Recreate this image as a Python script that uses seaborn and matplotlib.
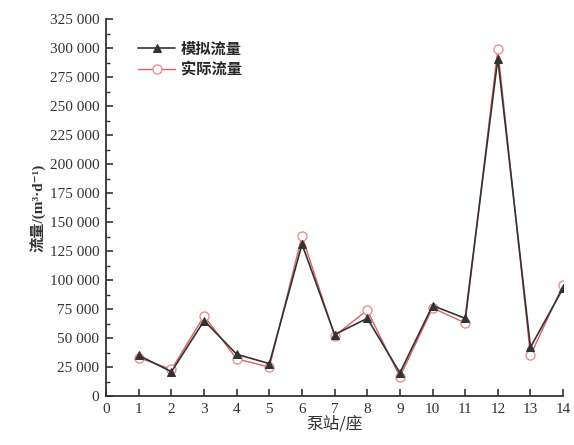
import numpy as np
import pandas as pd
import matplotlib
matplotlib.use('Agg')
import matplotlib.pyplot as plt
from matplotlib.ticker import FuncFormatter, MultipleLocator
import seaborn as sns

stations = list(range(1, 15))
sim_flow = [35000, 21000, 65000, 36000, 28000, 131000, 53000, 67000, 20000, 78000, 67000, 291000, 42000, 93000]
act_flow = [33000, 23000, 69000, 32000, 25000, 138000, 52000, 74000, 16500, 76000, 63000, 299000, 35000, 96000]

df = pd.DataFrame({'station': stations, 'sim': sim_flow, 'act': act_flow})

sns.set_style('ticks')
plt.rcParams['font.family'] = ['Liberation Serif', 'Noto Sans CJK SC', 'DejaVu Sans']
plt.rcParams['axes.unicode_minus'] = False

fig = plt.figure(figsize=(5.74, 4.45), dpi=100)
ax = fig.add_axes([0.185, 0.11, 0.796, 0.847])

sns.lineplot(data=df, x='station', y='act', ax=ax, color='#e06060', lw=1.0,
             marker='o', markersize=6.5, markerfacecolor='white',
             markeredgecolor='#e59090', markeredgewidth=1.0, label='实际流量')
sns.lineplot(data=df, x='station', y='sim', ax=ax, color='#333333', lw=1.2,
             marker='^', markersize=6, markerfacecolor='#333333',
             markeredgecolor='#333333', label='模拟流量')

ax.set_xlim(0, 14)
ax.set_ylim(0, 325000)
ax.xaxis.set_major_locator(MultipleLocator(1))
ax.yaxis.set_major_locator(MultipleLocator(25000))
ax.yaxis.set_minor_locator(MultipleLocator(12500))
ax.yaxis.set_major_formatter(FuncFormatter(lambda v, p: f'{int(v):,}'.replace(',', ' ')))
ax.tick_params(axis='both', which='major', direction='in', length=5, width=1.2,
               labelsize=11, colors='#333333', pad=5)
ax.tick_params(axis='y', which='minor', direction='in', length=3, width=1.0, colors='#333333')
for s in ['top', 'right']:
    ax.spines[s].set_visible(False)
for s in ['left', 'bottom']:
    ax.spines[s].set_linewidth(1.3)
    ax.spines[s].set_color('#333333')

ax.set_xlabel('泵站/座', fontsize=12, family=['Noto Sans CJK SC'], color='#333333', labelpad=0)
ax.set_ylabel('流量/(m³·d⁻¹)', fontsize=11, family=['Liberation Serif', 'Noto Sans CJK SC', 'DejaVu Sans'],
              fontweight='bold', color='#333333', labelpad=2)

handles, labels = ax.get_legend_handles_labels()
leg = ax.legend(handles[::-1], labels[::-1], loc='upper left', bbox_to_anchor=(0.04, 0.98),
                frameon=False, handlelength=2.4, handletextpad=0.4, labelspacing=0.3,
                prop={'family': 'Noto Sans CJK SC', 'size': 11, 'weight': 'bold'})

fig.savefig('out.png', dpi=100)
